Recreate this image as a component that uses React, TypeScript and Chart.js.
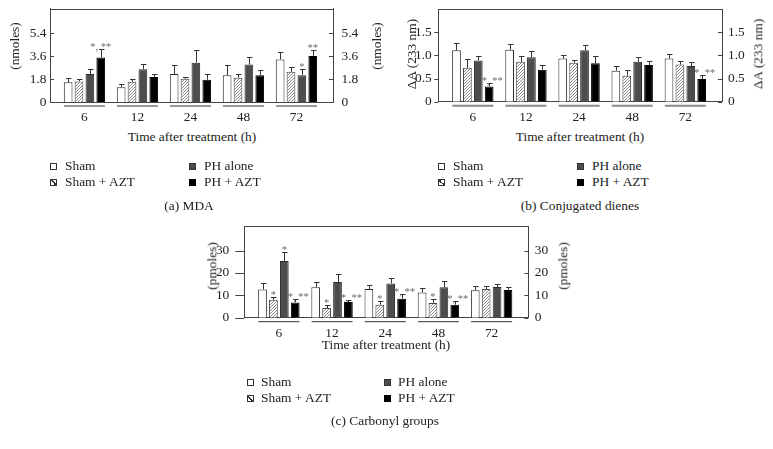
import React, { useEffect, useRef } from 'react';
import { Chart, registerables } from 'chart.js';
Chart.register(...registerables);

// ---------- data ----------
const timeLabels = ['6', '12', '24', '48', '72'];
const seriesNames = ['Sham', 'Sham + AZT', 'PH alone', 'PH + AZT'];

// (a) MDA (nmoles)
const mdaSham = [1.55, 1.15, 2.2, 2.1, 3.35];
const mdaShamErr = [0.3, 0.26, 0.69, 0.8, 0.6];
const mdaShamAzt = [1.62, 1.59, 1.83, 1.9, 2.37];
const mdaShamAztErr = [0.2, 0.21, 0.15, 0.34, 0.39];
const mdaPh = [2.2, 2.58, 3.08, 2.95, 2.11];
const mdaPhErr = [0.37, 0.37, 1.0, 0.55, 0.45];
const mdaPhAzt = [3.5, 1.96, 1.75, 2.11, 3.62];
const mdaPhAztErr = [0.67, 0.23, 0.44, 0.42, 0.45];
const mdaTicks = [0, 1.8, 3.6, 5.4];
const mdaTickLabels = ['0', '1.8', '3.6', '5.4'];
const mdaMax = 7.35;

// (b) Conjugated dienes (ΔA 233 nm)
const cdSham = [1.11, 1.12, 0.93, 0.67, 0.93];
const cdShamErr = [0.15, 0.12, 0.08, 0.11, 0.09];
const cdShamAzt = [0.73, 0.86, 0.84, 0.56, 0.8];
const cdShamAztErr = [0.19, 0.13, 0.07, 0.13, 0.08];
const cdPh = [0.89, 0.96, 1.11, 0.86, 0.77];
const cdPhErr = [0.1, 0.14, 0.11, 0.11, 0.09];
const cdPhAzt = [0.33, 0.69, 0.83, 0.79, 0.49];
const cdPhAztErr = [0.07, 0.11, 0.15, 0.08, 0.09];
const cdTicks = [0, 0.5, 1.0, 1.5];
const cdTickLabels = ['0', '0.5', '1.0', '1.5'];
const cdMax = 2.0;

// (c) Carbonyl groups (pmoles)
const cgSham = [12.6, 13.6, 12.8, 11.3, 12.3];
const cgShamErr = [3.0, 2.4, 2.0, 2.1, 1.8];
const cgShamAzt = [8.0, 4.3, 5.8, 6.6, 12.8];
const cgShamAztErr = [1.4, 1.6, 1.5, 1.6, 1.3];
const cgPh = [25.4, 16.0, 15.3, 13.6, 13.7];
const cgPhErr = [4.0, 3.6, 2.3, 2.6, 1.5];
const cgPhAzt = [6.8, 7.0, 8.5, 5.8, 12.4];
const cgPhAztErr = [1.5, 1.0, 1.9, 1.8, 1.4];
const cgTicks = [0, 10, 20, 30];
const cgTickLabels = ['0', '10', '20', '30'];
const cgMax = 41;

// significance marks: [series index, time index, text]
const mdaStars: [number, number, string][] = [[3, 0, '*, **'], [2, 4, '*'], [3, 4, '**']];
const cdStars: [number, number, string][] = [[3, 0, '*, **'], [3, 4, '*, **']];
const cgStars: [number, number, string][] = [
  [1, 0, '*'], [2, 0, '*'], [3, 0, '*, **'],
  [1, 1, '*'], [3, 1, '*, **'],
  [1, 2, '*'], [3, 2, '*, **'],
  [1, 3, '*'], [3, 3, '*, **'],
];

// ---------- drawing ----------
const FONT = '"Liberation Serif", "Times New Roman", serif';
const FS = 13.4;
const TEXT = '#222';
const AXIS = '#444';

function makeHatch(ctx: CanvasRenderingContext2D) {
  const c = document.createElement('canvas');
  c.width = 3; c.height = 3;
  const g = c.getContext('2d')!;
  g.fillStyle = '#fff'; g.fillRect(0, 0, 3, 3);
  g.fillStyle = '#8c8c8c';
  g.fillRect(2, 0, 1, 1);
  g.fillRect(1, 1, 1, 1);
  g.fillRect(0, 2, 1, 1);
  return ctx.createPattern(c, 'repeat');
}

type Spec = {
  left: number; top: number; width: number; height: number;
  area: { left: number; top: number; right: number; bottom: number };
  yMax: number; yTicks: number[]; yTickLabels: string[];
  values: number[][]; errors: number[][];
  stars: [number, number, string][];
  starDx: number;
  leftPad: number; rightPad: number; xPad: number;
  leftTick: [number, number]; rightTick: [number, number];
  underline: { color: string; width: number };
};

function zeroPad(s: any) {
  s.paddingTop = 0; s.paddingBottom = 0; s.paddingLeft = 0; s.paddingRight = 0;
}

function Panel({ spec }: { spec: Spec }) {
  const ref = useRef<HTMLCanvasElement>(null);
  useEffect(() => {
    const canvas = ref.current!;
    const ctx = canvas.getContext('2d')!;
    const hatch = makeHatch(ctx);
    const fills: any[] = ['#ffffff', hatch, '#4d4d4d', '#000000'];
    const borders = ['#2a2a2a', '#444', '#2a2a2a', '#000'];
    const { area, width, height } = spec;
    const tickFont = { family: FONT, size: FS, lineHeight: 1.2 };

    const extras = {
      id: 'extras',
      afterDatasetsDraw(chart: any) {
        const c = chart.ctx;
        const ca = chart.chartArea;
        const ys = chart.scales.y;
        const xs = chart.scales.x;
        c.save();
        // error bars
        c.strokeStyle = '#333';
        c.lineWidth = 1;
        spec.values.forEach((vals, d) => {
          const meta = chart.getDatasetMeta(d);
          meta.data.forEach((bar: any, i: number) => {
            const v = vals[i];
            const e = spec.errors[d][i];
            const x = Math.round(bar.x) + 0.5;
            const y0 = ys.getPixelForValue(v);
            const y1 = Math.round(ys.getPixelForValue(v + e)) + 0.5;
            c.beginPath();
            c.moveTo(x, y0); c.lineTo(x, y1);
            c.moveTo(x - 2.5, y1); c.lineTo(x + 3, y1);
            c.stroke();
          });
        });
        // significance marks
        c.fillStyle = '#6a6a6a';
        c.font = `10.5px ${FONT}`;
        c.textAlign = 'center';
        c.textBaseline = 'alphabetic';
        spec.stars.forEach(([d, i, t]) => {
          const bar = chart.getDatasetMeta(d).data[i];
          const top = ys.getPixelForValue(spec.values[d][i] + spec.errors[d][i]);
          const dx = t.length > 2 ? spec.starDx : 0;
          c.fillText(t, bar.x + dx, top + 1);
        });
        // top frame
        c.strokeStyle = AXIS;
        c.beginPath();
        c.moveTo(ca.left, Math.round(ca.top) + 0.5);
        c.lineTo(ca.right, Math.round(ca.top) + 0.5);
        c.stroke();
        // tick marks
        spec.yTicks.forEach((t) => {
          const y = Math.round(ys.getPixelForValue(t)) + 0.5;
          c.beginPath();
          c.moveTo(ca.left - spec.leftTick[0], y); c.lineTo(ca.left + spec.leftTick[1], y);
          c.moveTo(ca.right - spec.rightTick[1], y); c.lineTo(ca.right + spec.rightTick[0], y);
          c.stroke();
        });
        // group underlines
        c.strokeStyle = spec.underline.color;
        c.lineWidth = spec.underline.width;
        timeLabels.forEach((_, i) => {
          const x = xs.getPixelForValue(i);
          const y = ca.bottom + 4;
          c.beginPath();
          c.moveTo(x - 20.5, y); c.lineTo(x + 20.5, y);
          c.stroke();
        });
        c.restore();
      },
    };

    const yScale = (pos: 'left' | 'right') => ({
      type: 'linear',
      position: pos,
      min: 0,
      max: spec.yMax,
      grid: { display: false, drawTicks: false },
      border: { display: true, color: AXIS, width: 1 },
      afterBuildTicks: (s: any) => { s.ticks = spec.yTicks.map((v) => ({ value: v })); },
      ticks: {
        font: tickFont,
        color: TEXT,
        padding: pos === 'left' ? spec.leftPad : spec.rightPad,
        callback: (_v: any, idx: number) => spec.yTickLabels[idx],
      },
      afterFit: (s: any) => {
        s.width = pos === 'left' ? area.left : width - area.right;
        zeroPad(s);
      },
    });

    const chart = new Chart(canvas, {
      type: 'bar',
      data: {
        datasets: spec.values.map((vals, d) => ({
          label: seriesNames[d],
          data: vals.map((v, i) => ({ x: i, y: v })),
          backgroundColor: fills[d],
          borderColor: borders[d],
          borderWidth: 1,
          categoryPercentage: 0.82,
          barPercentage: 0.8,
        })),
      } as any,
      plugins: [extras],
      options: {
        animation: false,
        responsive: false,
        maintainAspectRatio: false,
        layout: { padding: { top: area.top, left: 0, right: 0, bottom: 0 } },
        plugins: { legend: { display: false }, tooltip: { enabled: false } },
        scales: {
          x: {
            type: 'linear',
            bounds: 'data',
            offset: false,
            min: -0.65,
            max: 4.69,
            grid: { display: false, drawTicks: false },
            border: { display: true, color: AXIS, width: 1 },
            afterBuildTicks: (s: any) => { s.ticks = timeLabels.map((_, i) => ({ value: i })); },
            ticks: {
              font: tickFont,
              color: TEXT,
              padding: spec.xPad,
              maxRotation: 0,
              autoSkip: false,
              callback: (_v: any, idx: number) => timeLabels[idx],
            },
            afterFit: (s: any) => {
              s.height = height - area.bottom;
              zeroPad(s);
            },
          },
          y: yScale('left'),
          y1: yScale('right'),
        } as any,
      },
    });
    return () => chart.destroy();
  }, [spec]);
  return (
    <canvas
      ref={ref}
      width={spec.width}
      height={spec.height}
      style={{ position: 'absolute', left: spec.left, top: spec.top, width: spec.width, height: spec.height }}
    />
  );
}

const specA: Spec = {
  left: 0, top: 0, width: 395, height: 128,
  area: { left: 50, top: 8.5, right: 333, bottom: 102 },
  yMax: mdaMax, yTicks: mdaTicks, yTickLabels: mdaTickLabels,
  values: [mdaSham, mdaShamAzt, mdaPh, mdaPhAzt],
  errors: [mdaShamErr, mdaShamAztErr, mdaPhErr, mdaPhAztErr],
  stars: mdaStars, starDx: 0,
  leftPad: 3.5, rightPad: 8.5, xPad: 7,
  leftTick: [0, 4], rightTick: [0, 4],
  underline: { color: '#333', width: 1 },
};
const specB: Spec = {
  left: 395, top: 0, width: 378, height: 128,
  area: { left: 43.3, top: 9, right: 327, bottom: 101.7 },
  yMax: cdMax, yTicks: cdTicks, yTickLabels: cdTickLabels,
  values: [cdSham, cdShamAzt, cdPh, cdPhAzt],
  errors: [cdShamErr, cdShamAztErr, cdPhErr, cdPhAztErr],
  stars: cdStars, starDx: 3,
  leftPad: 6.5, rightPad: 6, xPad: 7.5,
  leftTick: [4, 0], rightTick: [0, 4],
  underline: { color: '#8a8a8a', width: 2 },
};
const specC: Spec = {
  left: 180, top: 215, width: 400, height: 130,
  area: { left: 64.3, top: 11, right: 348.3, bottom: 102.7 },
  yMax: cgMax, yTicks: cgTicks, yTickLabels: cgTickLabels,
  values: [cgSham, cgShamAzt, cgPh, cgPhAzt],
  errors: [cgShamErr, cgShamAztErr, cgPhErr, cgPhAztErr],
  stars: cgStars, starDx: 3,
  leftPad: 15, rightPad: 6.5, xPad: 7.5,
  leftTick: [9, 0], rightTick: [0, 4],
  underline: { color: '#333', width: 1 },
};

const textBase: React.CSSProperties = {
  position: 'absolute', whiteSpace: 'nowrap', font: `${FS}px ${FONT}`, color: TEXT, lineHeight: 1,
};

function T({ x, y, text, rot }: { x: number; y: number; text: string; rot?: boolean }) {
  return (
    <div style={{ ...textBase, left: x, top: y, transform: `translate(-50%,-50%)${rot ? ' rotate(-90deg)' : ''}` }}>
      {text}
    </div>
  );
}

const markerStyles: React.CSSProperties[] = [
  { background: '#fff', border: '1px solid #333' },
  { background: 'linear-gradient(to top right, #fff 40%, #333 40%, #333 60%, #fff 60%)', border: '1px solid #333' },
  { background: '#4d4d4d', border: '1px solid #333' },
  { background: '#000', border: '1px solid #000' },
];

function LegendItem({ mx, tx, y, idx }: { mx: number; tx: number; y: number; idx: number }) {
  return (
    <>
      <div style={{ position: 'absolute', left: mx, top: y - 3.5, width: 5, height: 5, ...markerStyles[idx] }} />
      <div style={{ ...textBase, left: tx, top: y, transform: 'translateY(-50%)' }}>{seriesNames[idx]}</div>
    </>
  );
}

function Legend({ m1, t1, m2, t2, y1, y2 }: { m1: number; t1: number; m2: number; t2: number; y1: number; y2: number }) {
  return (
    <>
      <LegendItem mx={m1} tx={t1} y={y1} idx={0} />
      <LegendItem mx={m1} tx={t1} y={y2} idx={1} />
      <LegendItem mx={m2} tx={t2} y={y1} idx={2} />
      <LegendItem mx={m2} tx={t2} y={y2} idx={3} />
    </>
  );
}

export default function App() {
  return (
    <div style={{ position: 'absolute', left: 0, top: 0, width: 773, height: 449, background: '#fff', overflow: 'hidden' }}>
      <Panel spec={specA} />
      <Panel spec={specB} />
      <Panel spec={specC} />

      {/* (a) */}
      <T x={15} y={46} text="(nmoles)" rot />
      <T x={377} y={46} text="(nmoles)" rot />
      <T x={192} y={137} text="Time after treatment (h)" />
      <Legend m1={50} t1={65} m2={189} t2={204} y1={166} y2={182} />
      <T x={189} y={206} text="(a)  MDA" />

      {/* (b) */}
      <T x={412} y={54} text="ΔA (233 nm)" rot />
      <T x={758} y={54} text="ΔA (233 nm)" rot />
      <T x={580} y={137} text="Time after treatment (h)" />
      <Legend m1={438} t1={453} m2={577} t2={592} y1={166} y2={182} />
      <T x={580} y={206} text="(b)  Conjugated dienes" />

      {/* (c) */}
      <T x={212} y={266} text="(pmoles)" rot />
      <T x={563} y={266} text="(pmoles)" rot />
      <T x={386} y={345} text="Time after treatment (h)" />
      <Legend m1={247} t1={261} m2={384} t2={398} y1={382} y2={398} />
      <T x={385} y={421} text="(c)  Carbonyl groups" />
    </div>
  );
}
